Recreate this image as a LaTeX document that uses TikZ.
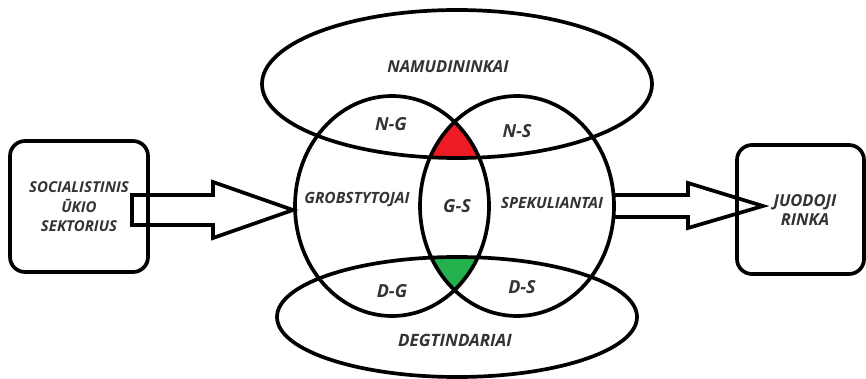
\documentclass[tikz,border=0pt]{standalone}
\usepackage{fontspec}
\setmainfont{Open Sans}
\definecolor{txt}{HTML}{333333}
\definecolor{fillred}{HTML}{ED1C24}
\definecolor{fillgreen}{HTML}{22B14C}
\begin{document}
\begin{tikzpicture}[x=1pt,y=-1pt, line width=3.7pt, line join=miter,
  lbl/.style={font=\fontsize{#1}{19.5}\selectfont\bfseries\itshape, text=txt, align=center, inner sep=0pt},
  lbl/.default=15,
  blockbox/.style={draw, rounded corners=15pt, line width=3.7pt},
  blockarrow/.style={draw, line width=3.7pt, line join=miter}]
\useasboundingbox (0,0) rectangle (866,379);
% fills of the triple intersections
\begin{scope}
  \clip (392,206) ellipse [x radius=97pt, y radius=110pt];
  \clip (517,206) ellipse [x radius=97pt, y radius=110pt];
  \fill[fillred] (457,84) ellipse [x radius=195pt, y radius=74pt];
  \fill[fillgreen] (457,317) ellipse [x radius=180pt, y radius=60pt];
\end{scope}
% sets
\draw (457,84) ellipse [x radius=195pt, y radius=74pt];
\draw (457,317) ellipse [x radius=180pt, y radius=60pt];
\draw (392,206) ellipse [x radius=97pt, y radius=110pt];
\draw (517,206) ellipse [x radius=97pt, y radius=110pt];
% boxes
\draw[blockbox] (10,141) rectangle (148,272);
\draw[blockbox] (737,145) rectangle (864,274);
% block arrows
\draw[blockarrow] (132,195) -- (213,195) -- (213,182) -- (293,210) -- (213,238) -- (213,225) -- (132,225) -- cycle;
\draw[blockarrow] (613,195) -- (688,195) -- (688,183) -- (763,206) -- (688,228) -- (688,217) -- (613,217);
% labels
\node[lbl=15] (soc) at (79,207) {SOCIALISTINIS\\ŪKIO\\SEKTORIUS};
\node[lbl=16.5] (rinka) at (805,210) {JUODOJI\\RINKA};
\node[lbl=16.5] (nam) at (448,67) {NAMUDININKAI};
\node[lbl=18] (ng) at (391,124) {N-G};
\node[lbl=18] (ns) at (517,131) {N-S};
\node[lbl=15.5] (gro) at (357,200) {GROBSTYTOJAI};
\node[lbl=18] (gs) at (457,206) {G-S};
\node[lbl=15.5] (spe) at (552,203) {SPEKULIANTAI};
\node[lbl=18] (dg) at (392,291) {D-G};
\node[lbl=18] (ds) at (522,287) {D-S};
\node[lbl=17] (deg) at (455,340) {DEGTINDARIAI};
\end{tikzpicture}
\end{document}
